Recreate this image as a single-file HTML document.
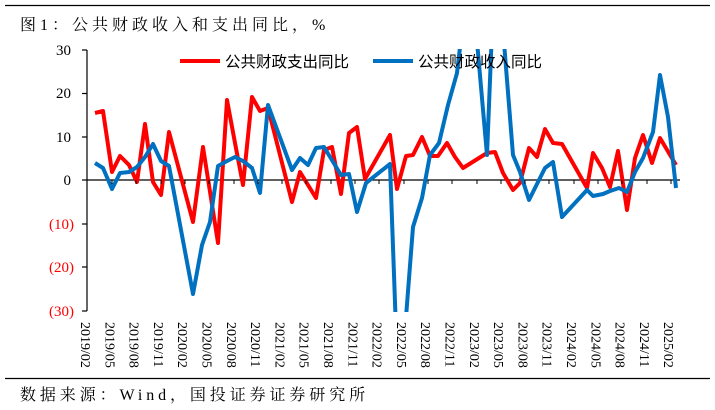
<!DOCTYPE html>
<html><head><meta charset="utf-8"><style>
html,body{margin:0;padding:0;background:#fff;width:715px;height:410px;overflow:hidden}
svg{display:block}
</style></head><body>
<svg width="715" height="410" viewBox="0 0 715 410" xmlns="http://www.w3.org/2000/svg">
<line x1="5" y1="5.5" x2="710" y2="5.5" stroke="#000" stroke-width="1.3"/>
<text x="20" y="30" font-family="Liberation Serif, Noto Serif CJK SC, serif" font-size="16" letter-spacing="4" fill="#000">图1：公共财政收入和支出同比，%</text>
<defs><clipPath id="c"><rect x="88" y="49" width="600" height="263"/></clipPath></defs>
<g font-family="Liberation Serif, serif" font-size="15" text-anchor="end">
<text x="71" y="55">30</text><text x="71" y="98">20</text><text x="71" y="142">10</text><text x="71" y="185">0</text>
<text x="74" y="229" fill="#f00">(10)</text><text x="74" y="272" fill="#f00">(20)</text><text x="74" y="316" fill="#f00">(30)</text>
</g>
<g stroke="#000" stroke-width="1.2">
<line x1="87" y1="50" x2="87" y2="311"/>
<line x1="82" y1="50" x2="87" y2="50"/><line x1="82" y1="93.5" x2="87" y2="93.5"/><line x1="82" y1="137" x2="87" y2="137"/><line x1="82" y1="180" x2="87" y2="180"/><line x1="82" y1="224" x2="87" y2="224"/><line x1="82" y1="267" x2="87" y2="267"/><line x1="82" y1="311" x2="87" y2="311"/>
<line x1="87" y1="180" x2="680" y2="180"/>
</g>
<g clip-path="url(#c)" fill="none" stroke-width="4" stroke-linejoin="round">
<polyline stroke="#f00" points="95,113 103,111 112,172 120,156 129,165 137,182 145,124 153,182 161,195 169,132 193,222 203,147 218,243 227,100 235,143 243,185 252,97 260,111 268,108 292,202 300,172 316,198 324,150 332,147 341,194 349,133 357,127 365,179 390,135 397,189 406,156 413,155 422,137 430,156 438,156 447,143 455,157 463,168 487,153 495,152 503,173 513,190 520,183 529,148 537,157 545,129 553,143 562,144 587,188 593,153 602,168 610,187 618,151 627,210 635,158 643,135 652,163 660,138 676,165"/>
<polyline stroke="#0070c0" points="95,163 103,168 112,189 120,173 129,172 137,167 145,157 153,144 161,161 169,166 193,294 202,245 210,222 218,166 227,161 235,157 243,161 252,168 260,193 268,105 292,170 300,158 308,165 316,148 324,147 341,175 349,174 357,212 366,183 390,164 396,330 405,330 413,227 422,198 430,155 439,143 448,105 457,73 462,30 476,30 487,155 492,30 503,30 513,155 520,172 529,200 545,168 553,162 562,217 587,190 593,196 603,194 610,191 619,188 627,192 635,172 643,158 653,132 660,75 668,117 676,188"/>
</g>
<line x1="180" y1="61" x2="220" y2="61" stroke="#f00" stroke-width="4"/>
<text x="225" y="67" font-family="Liberation Sans, Noto Sans CJK SC, sans-serif" font-size="15.5" fill="#000">公共财政支出同比</text>
<line x1="373" y1="61" x2="413" y2="61" stroke="#0070c0" stroke-width="4"/>
<text x="418" y="67" font-family="Liberation Sans, Noto Sans CJK SC, sans-serif" font-size="15.5" fill="#000">公共财政收入同比</text>
<g font-family="Liberation Serif, serif" font-size="14" fill="#000">
<text transform="translate(81,322) rotate(90)">2019/02</text>
<text transform="translate(105.3,322) rotate(90)">2019/05</text>
<text transform="translate(129.6,322) rotate(90)">2019/08</text>
<text transform="translate(153.9,322) rotate(90)">2019/11</text>
<text transform="translate(178.2,322) rotate(90)">2020/02</text>
<text transform="translate(202.5,322) rotate(90)">2020/05</text>
<text transform="translate(226.8,322) rotate(90)">2020/08</text>
<text transform="translate(251.1,322) rotate(90)">2020/11</text>
<text transform="translate(275.4,322) rotate(90)">2021/02</text>
<text transform="translate(299.7,322) rotate(90)">2021/05</text>
<text transform="translate(324,322) rotate(90)">2021/08</text>
<text transform="translate(348.3,322) rotate(90)">2021/11</text>
<text transform="translate(372.6,322) rotate(90)">2022/02</text>
<text transform="translate(396.9,322) rotate(90)">2022/05</text>
<text transform="translate(421.2,322) rotate(90)">2022/08</text>
<text transform="translate(445.5,322) rotate(90)">2022/11</text>
<text transform="translate(469.8,322) rotate(90)">2023/02</text>
<text transform="translate(494.1,322) rotate(90)">2023/05</text>
<text transform="translate(518.4,322) rotate(90)">2023/08</text>
<text transform="translate(542.7,322) rotate(90)">2023/11</text>
<text transform="translate(567,322) rotate(90)">2024/02</text>
<text transform="translate(591.3,322) rotate(90)">2024/05</text>
<text transform="translate(615.6,322) rotate(90)">2024/08</text>
<text transform="translate(639.9,322) rotate(90)">2024/11</text>
<text transform="translate(664.2,322) rotate(90)">2025/02</text>
</g>
<g stroke="#000" stroke-width="1">
<line x1="112" y1="180" x2="112" y2="184"/><line x1="136" y1="180" x2="136" y2="184"/><line x1="161" y1="180" x2="161" y2="184"/><line x1="185" y1="180" x2="185" y2="184"/><line x1="209" y1="180" x2="209" y2="184"/><line x1="234" y1="180" x2="234" y2="184"/><line x1="258" y1="180" x2="258" y2="184"/><line x1="282" y1="180" x2="282" y2="184"/><line x1="306" y1="180" x2="306" y2="184"/><line x1="331" y1="180" x2="331" y2="184"/><line x1="355" y1="180" x2="355" y2="184"/><line x1="379" y1="180" x2="379" y2="184"/><line x1="404" y1="180" x2="404" y2="184"/><line x1="428" y1="180" x2="428" y2="184"/><line x1="452" y1="180" x2="452" y2="184"/><line x1="477" y1="180" x2="477" y2="184"/><line x1="501" y1="180" x2="501" y2="184"/><line x1="525" y1="180" x2="525" y2="184"/><line x1="549" y1="180" x2="549" y2="184"/><line x1="574" y1="180" x2="574" y2="184"/><line x1="598" y1="180" x2="598" y2="184"/><line x1="622" y1="180" x2="622" y2="184"/><line x1="647" y1="180" x2="647" y2="184"/><line x1="671" y1="180" x2="671" y2="184"/>
</g>
<line x1="5" y1="378.5" x2="710" y2="378.5" stroke="#000" stroke-width="1.3"/>
<text x="20" y="400" font-family="Liberation Serif, Noto Serif CJK SC, serif" font-size="16" letter-spacing="3.9" fill="#000">数据来源：Wind，国投证券证券研究所</text>
</svg>
</body></html>
